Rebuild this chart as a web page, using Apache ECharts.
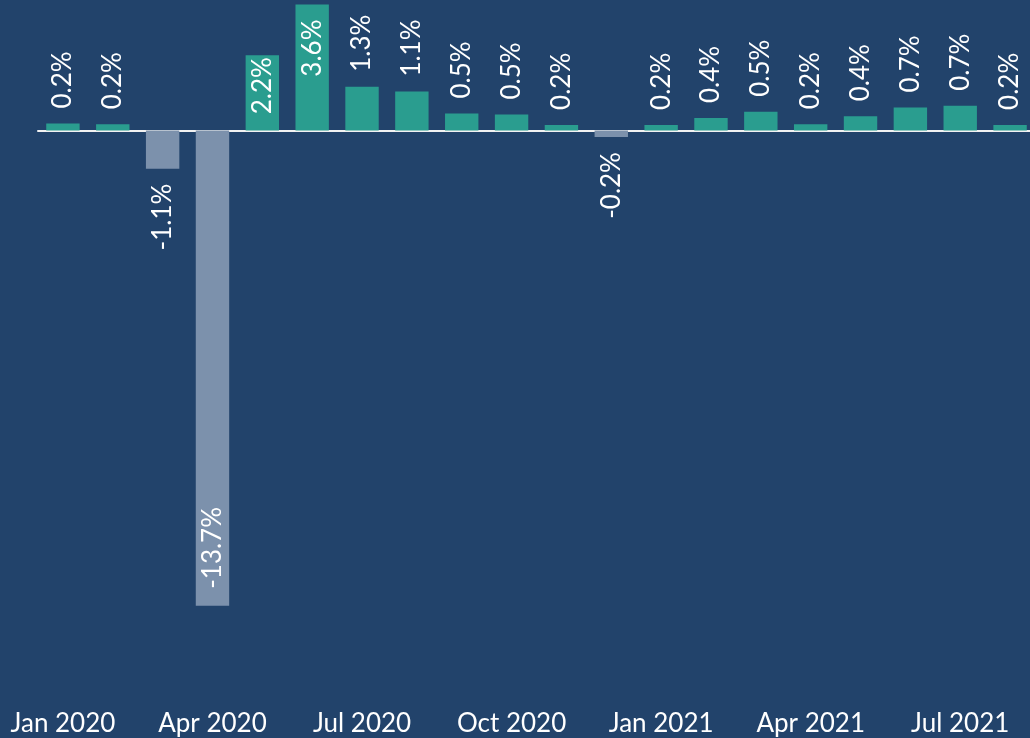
<!DOCTYPE html>
<html>
<head>
<meta charset="utf-8">
<style>
  html, body { margin: 0; padding: 0; background: #22436B; }
  #chart { width: 1030px; height: 738px; }
</style>
<script src="https://cdn.jsdelivr.net/npm/echarts@6/dist/echarts.min.js"></script>
</head>
<body>
<div id="chart"></div>
<script>
// Monthly change (%), Jan 2020 – Aug 2021
const categories = [
  'Jan 2020', 'Feb 2020', 'Mar 2020', 'Apr 2020', 'May 2020', 'Jun 2020',
  'Jul 2020', 'Aug 2020', 'Sep 2020', 'Oct 2020', 'Nov 2020', 'Dec 2020',
  'Jan 2021', 'Feb 2021', 'Mar 2021', 'Apr 2021', 'May 2021', 'Jun 2021',
  'Jul 2021', 'Aug 2021'
];
const values = [
  0.20, 0.18, -1.10, -13.70, 2.17, 3.63,
  1.26, 1.12, 0.49, 0.46, 0.16, -0.19,
  0.16, 0.36, 0.54, 0.18, 0.41, 0.66,
  0.71, 0.16
];
// Labels drawn inside the bar end (bar too tall for the label to fit outside)
const insideLabel = [
  false, false, false, true, true, true,
  false, false, false, false, false, false,
  false, false, false, false, false, false,
  false, false
];

const POS_COLOR = '#2A9D8F';
const NEG_COLOR = '#7C91AC';
const FONT = 'Lato';

function labelFor(v, inside) {
  const base = {
    show: true, rotate: 90, verticalAlign: 'middle',
    color: '#FFFFFF', fontFamily: FONT, fontSize: 26
  };
  if (v >= 0) {
    if (inside) return Object.assign(base, { position: 'insideTop', align: 'right', distance: v > 3 ? 15 : 2 });
    return Object.assign(base, { position: 'top', align: 'left', distance: 15 });
  }
  if (inside) return Object.assign(base, { position: 'insideBottom', align: 'left', distance: 17 });
  return Object.assign(base, { position: 'bottom', align: 'right', distance: 15 });
}

const seriesData = values.map((v, i) => ({
  value: v,
  itemStyle: { color: v >= 0 ? POS_COLOR : NEG_COLOR },
  label: labelFor(v, insideLabel[i])
}));

const chart = echarts.init(document.getElementById('chart'), null, { renderer: 'canvas' });
chart.setOption({
  backgroundColor: '#22436B',
  animation: false,
  grid: { left: 38, width: 997, top: 0, height: 703, containLabel: false, outerBoundsMode: 'none' },
  xAxis: [
    {
      type: 'category',
      data: categories,
      position: 'bottom',
      boundaryGap: true,
      axisLine: { show: false, onZero: false },
      axisTick: { show: false },
      splitLine: { show: false },
      axisLabel: {
        interval: 2,
        color: '#FFFFFF',
        fontFamily: FONT,
        fontSize: 26,
        margin: 8,
        hideOverlap: false,
        formatter: (s) => s
      }
    },
    {
      type: 'category',
      data: categories,
      position: 'bottom',
      boundaryGap: true,
      axisLine: { show: true, onZero: true, lineStyle: { color: '#F2F2F2', width: 2 } },
      axisTick: { show: false },
      axisLabel: { show: false },
      splitLine: { show: false }
    }
  ],
  yAxis: {
    type: 'value',
    min: -16.5,
    max: 3.76,
    show: false,
    splitLine: { show: false }
  },
  series: [{
    type: 'bar',
    xAxisIndex: 0,
    data: seriesData,
    barCategoryGap: '33%',
    label: {
      formatter: (p) => p.value.toFixed(1) + '%'
    }
  }, {
    type: 'bar',
    xAxisIndex: 1,
    data: [],
    silent: true
  }]
});
</script>
</body>
</html>
